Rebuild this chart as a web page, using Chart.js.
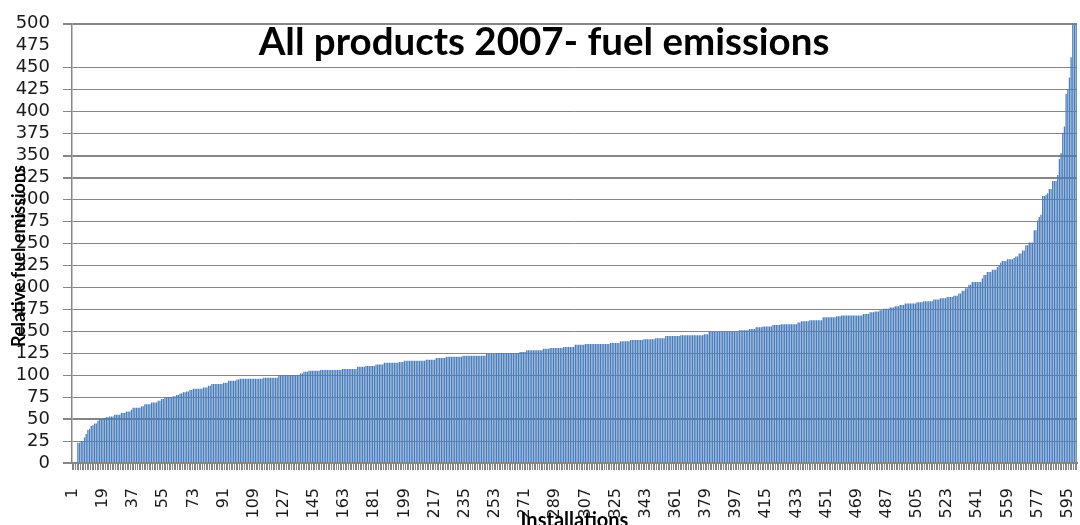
<!DOCTYPE html>
<html><head><meta charset="utf-8">
<script src="https://cdn.jsdelivr.net/npm/chart.js@4.4.1/dist/chart.umd.min.js"></script>
<style>html,body{margin:0;padding:0;background:#fff;overflow:hidden}canvas{display:block}</style>
</head><body>
<canvas id="c" width="1080" height="525"></canvas>
<script>
const chartTitle = 'All products 2007- fuel emissions';
const yAxisTitle = 'Relative fuel emissions';
const xAxisTitle = 'Installations';
const yMin = 0, yMax = 500, yStep = 25;
const hiddenGridValues = [475];
const boldGridValues = [0, 50, 325, 350, 500];
const labelStep = 18;
const emissions = [
0,0,0,23,23,25,25,29,33,37.5,39,42,43,45,45,48,50,50,51,51,
52,52,53,53,53,55,55,55,55,57,57,57,58.5,58.5,58.5,60.5,63,63,63,63,
63,64.5,64.5,67,67,67,67,69,69,69,69,71,71,73,73,75,75,75,75,75,
76,76,77.5,77.5,79,79,80.5,80.5,81.5,81.5,83,83,84.5,84.5,84.5,84.5,84.5,84.5,86,86,
86,88,88,90,90,90,90,90,90,90,91.5,91.5,91.5,93.5,93.5,93.5,93.5,93.5,95,95,
95.8,95.8,95.8,95.8,95.8,95.8,95.8,95.8,96,96,96,96,96,96,97,97,97,97,97,97,
97,97,97,100,100,100,100,100,100,100,100,100,100,100,100,100,102,102,104,104,
104,105,105,105,105,105,105,105,106,106,106,106,106,106,106,106,106,106,106,106,
106,107,107,107,107,107,107,107,107,107,109.5,109.5,109.5,109.5,109.5,110.5,110.5,110.5,110.5,110.5,
110.5,112,112,112,112,112,114,114,114,114,114,114,114,114,114,115,115,115,116.5,116.5,
116.5,116.5,116.5,116.5,116.5,116.5,116.5,116.5,116.5,116.5,116.5,117.5,117.5,117.5,117.5,117.5,117.5,119.5,119.5,119.5,
119.5,119.5,119.5,121,121,121,121,121,121,121,121,121,121,122,122,122,122,122,122,122,
122,122,122,122,122,122,122,124,124,124,124,124,124,125,125,125,125,125,125,125,
125,125,125,125,125,125,125,126.5,126.5,126.5,126.5,128.5,128.5,128.5,128.5,128.5,128.5,128.5,128.5,128.5,
128.5,130,130,130,130,131,131,131,131,131,131,131,131,132,132,132,132,132,132,132,
134.5,134.5,134.5,134.5,134.5,134.5,135.5,135.5,135.5,135.5,135.5,135.5,135.5,135.5,135.5,135.5,135.5,135.5,135.5,135.5,
135.5,136.5,136.5,136.5,136.5,136.5,136.5,138.5,138.5,138.5,138.5,138.5,138.5,140,140,140,140,140,140,140,
140,141,141,141,141,141,141,141,142,142,142,142,142,142,144.5,144.5,144.5,144.5,144.5,144.5,
144.5,144.5,144.5,145.5,145.5,145.5,145.5,145.5,145.5,145.5,145.5,145.5,145.5,145.5,145.5,145.5,145.5,146.5,146.5,146.5,
149,149,149,149,149,149,149,149,149,149,149,149,149,149,149,149,149,149,151,151,
151,151,151,151,152.5,152.5,152.5,152.5,154.5,154.5,154.5,154.5,155.5,155.5,155.5,155.5,155.5,155.5,157,157,
157,157,157,158,158,158,158,158,158,158,158,158,158,160,160,161.5,161.5,161.5,161.5,161.5,
162.5,162.5,162.5,162.5,162.5,162.5,162.5,162.5,166,166,166,166,166,166,166,166,167,167,167,168,
168,168,168,168,168,168,168,168,168,168,168,168,169.5,169.5,169.5,169.5,171.5,171.5,171.5,172.5,
172.5,172.5,174,174,175.5,175.5,175.5,175.5,177,177,177,178.5,178.5,178.5,180,180,180,181.5,181.5,181.5,
181.5,181.5,181.5,181.5,183,183,183,183,184,184,184,184,184,184,186,186,186,186,187.5,187.5,
187.5,187.5,189,189,189,189,190.5,190.5,190.5,193,193,196,196,199,199,203,203,206,206,206,
206,206,206,210,214,214,217.5,217.5,217.5,220,220,220,223,225.5,228,230,230,230,232,232,
232,232,233.5,235,235,238.5,238.5,242,242,248,248,251,251,251,265,265,276,280,282.5,304,
304,305.5,307,312,312,321,321,321,328,346,352.5,376,383,420,425,439,462,500,500,500
];
const categories = emissions.map((_, i) => String(i + 1));

const GRID = '#868686';

const overlayText = {
  id: 'overlayText',
  afterDraw(chart) {
    const ctx = chart.ctx, area = chart.chartArea;
    ctx.save();
    ctx.fillStyle = '#000';
    ctx.textAlign = 'center';
    ctx.textBaseline = 'alphabetic';
    ctx.font = 'bold 38.5px Lato';
    ctx.fillText(chartTitle, 544, 55);
    ctx.font = 'bold 20px Lato';
    ctx.fillText(xAxisTitle, (area.left + area.right) / 2, 527);
    ctx.translate(25, 256);
    ctx.rotate(-Math.PI / 2);
    ctx.font = 'bold 18px Lato';
    ctx.fillText(yAxisTitle, 0, 0);
    ctx.restore();
  }
};

new Chart(document.getElementById('c'), {
  type: 'bar',
  data: {
    labels: categories,
    datasets: [{
      data: emissions,
      backgroundColor: '#4a7dbb',
      borderWidth: 0,
      barPercentage: 0.78,
      categoryPercentage: 1.0
    }]
  },
  options: {
    responsive: false,
    animation: false,
    devicePixelRatio: 1,
    layout: { padding: { top: 20, right: 3, left: 0, bottom: 0 } },
    plugins: { legend: { display: false }, title: { display: false }, tooltip: { enabled: false } },
    scales: {
      x: {
        offset: true,
        grid: { display: true, drawOnChartArea: false, drawTicks: true, tickLength: 7, color: GRID, lineWidth: 1 },
        border: { display: true, color: GRID, width: 2 },
        ticks: {
          autoSkip: false,
          minRotation: 90,
          maxRotation: 90,
          padding: 18,
          color: '#1a1a1a',
          font: { family: 'DejaVu Sans', size: 16 },
          callback: (v, i) => (i % labelStep === 0 ? categories[i] : '')
        },
        afterFit(scale) { scale.height = 62; scale.paddingLeft = 0; scale.paddingRight = 0; }
      },
      y: {
        min: yMin,
        max: yMax,
        grid: {
          drawTicks: true,
          tickLength: 9,
          color: ctx => (hiddenGridValues.includes(ctx.tick && ctx.tick.value) ? 'rgba(0,0,0,0)' : GRID),
          lineWidth: ctx => (boldGridValues.includes(ctx.tick && ctx.tick.value) ? 2 : 1)
        },
        border: { display: true, color: GRID, width: 1.5 },
        ticks: {
          stepSize: yStep,
          autoSkip: false,
          padding: 13,
          color: '#1a1a1a',
          font: { family: 'DejaVu Sans', size: 18 }
        },
        afterFit(scale) { scale.width = 72; }
      }
    }
  },
  plugins: [overlayText]
});
</script>
</body></html>
